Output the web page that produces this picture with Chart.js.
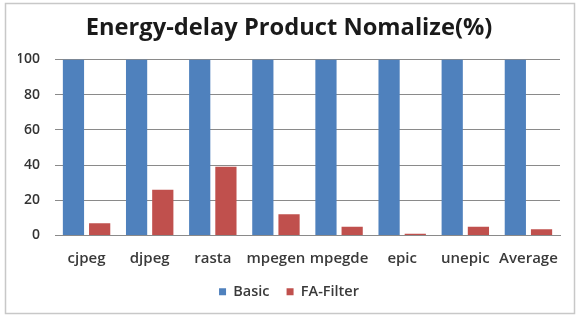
<!DOCTYPE html>
<html><head><meta charset="utf-8">
<script src="https://cdn.jsdelivr.net/npm/chart.js@4"></script>
<style>html,body{margin:0;padding:0;background:#fff;}#wrap{width:580px;height:324px;}</style>
</head><body><div id="wrap"><canvas id="c" width="580" height="324"></canvas></div>
<script>
const categories = ["cjpeg","djpeg","rasta","mpegen","mpegde","epic","unepic","Average"];
const basicValues = [100,100,100,100,100,100,100,100];
const faFilterValues = [7,26,39,12,5,1,5,3.5];
const yTicks = [0,20,40,60,80,100];

const frame = {
  id:'frame',
  beforeDraw(chart){
    const ctx = chart.ctx;
    ctx.save();
    ctx.fillStyle='#fff';ctx.fillRect(0,0,chart.width,chart.height);
    ctx.strokeStyle='#c8c8c8';ctx.lineWidth=1.5;
    ctx.strokeRect(5.5,3.5,569,310);
    ctx.restore();
  }
};

new Chart(document.getElementById('c'),{
  type:'bar',
  data:{labels:categories,datasets:[
    {label:'Basic',data:basicValues,backgroundColor:'#4F81BD'},
    {label:'FA-Filter',data:faFilterValues,backgroundColor:'#C0504D'}
  ]},
  options:{
    responsive:false,animation:false,
    layout:{padding:{left:18,right:20,top:8,bottom:15}},
    datasets:{bar:{categoryPercentage:0.83,barPercentage:0.81}},
    plugins:{
      title:{display:true,text:'Energy-delay Product Nomalize(%)',color:'#1a1a1a',
        font:{family:'Open Sans',size:23.7,weight:'bold'},padding:{top:6,bottom:17}},
      legend:{position:'bottom',labels:{boxWidth:7,boxHeight:7,color:'#3a3a3a',
        font:{family:'Open Sans',size:14.5,weight:'600'},padding:17}},
      tooltip:{enabled:false}
    },
    scales:{
      x:{grid:{display:false,drawTicks:false},border:{color:'#8a8a8a'},
        afterFit(s){s.height=s.height-14;},
        ticks:{color:'#3a3a3a',font:{family:'Open Sans',size:15,weight:'600'},padding:14,maxRotation:0,autoSkip:false}},
      y:{min:0,max:100,afterBuildTicks(a){a.ticks=yTicks.map(v=>({value:v}));},
        afterFit(s){s.width=37;},
        grid:{color:'#8a8a8a',drawTicks:false},border:{display:false},
        ticks:{color:'#333',font:{family:'Open Sans',size:14,weight:'600'},padding:15}}
    }
  },
  plugins:[frame]
});
</script></body></html>
